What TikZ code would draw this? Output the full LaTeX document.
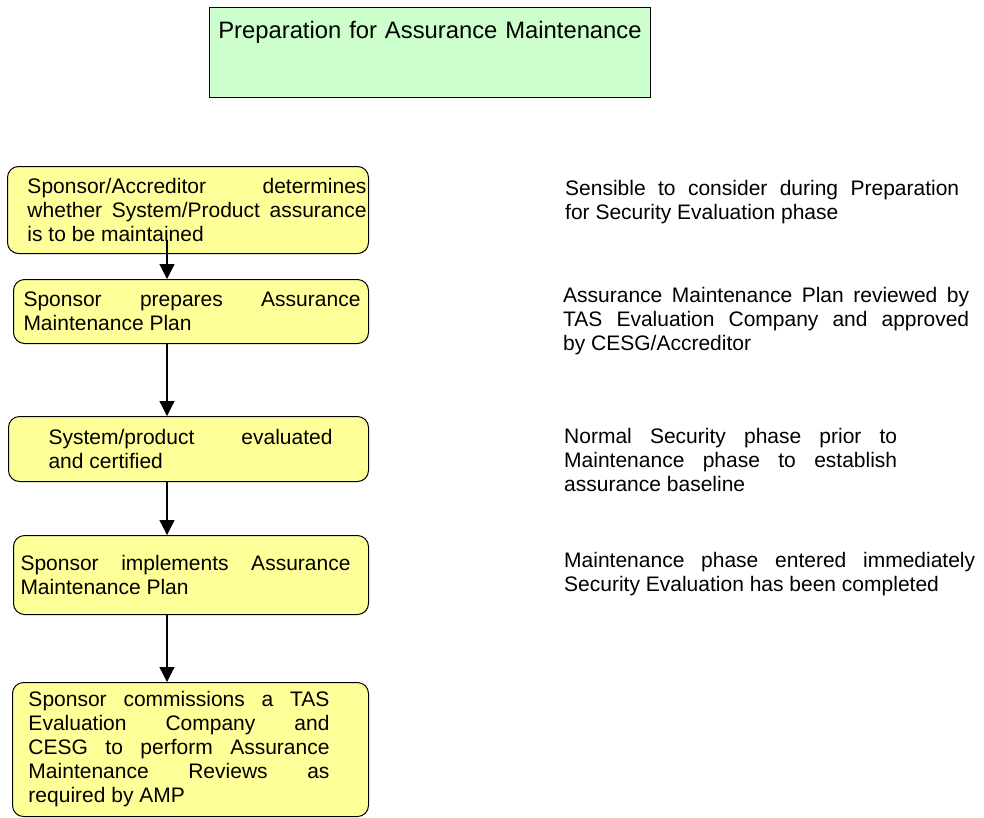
\documentclass[tikz,border=0pt]{standalone}
\usepackage{fontspec}
\setmainfont{Liberation Sans}
\usetikzlibrary{arrows.meta,calc}
\definecolor{HdrFill} {RGB}{204,255,204}
\definecolor{StepFill}{RGB}{255,255,153}
\tikzset{
  nd_hdr/.style={rectangle,draw=black,fill=HdrFill,line width=1pt,inner sep=0pt,align=center,font=\fontsize{23.8}{28}\selectfont},
  nd_step/.style={rectangle,rounded corners=11pt,draw=black,fill=StepFill,line width=1pt,inner sep=0pt,anchor=north west,font=\fontsize{21}{24}\selectfont},
  nd_note/.style={inner sep=0pt,anchor=base west,align=justify,font=\fontsize{21}{24}\selectfont},
  arr/.style={-{Triangle[length=15pt,width=15pt]},line width=1.2pt},
}
% left pad, text width, right pad, text
\newcommand{\steptext}[4]{\hspace*{#1pt}\parbox{#2pt}{#4}\hspace*{#3pt}}
\hbadness=10000

\begin{document}
\begin{tikzpicture}[x=1pt,y=-1pt]
\useasboundingbox (0,0) rectangle (984,817);
% title
\node[nd_hdr,anchor=north west,minimum width=441pt,text width=441pt,text height=31pt,text depth=59pt] (hdr) at (209,7) {Preparation for Assurance Maintenance};
% steps
\node[nd_step,minimum width=361pt,minimum height=87pt] (b1) at (7,166) {\steptext{20}{339}{2}{Sponsor/Accreditor determines\linebreak whether System/Product assurance\linebreak is to be maintained}};
\node[nd_step,minimum width=355pt,minimum height=64pt] (b2) at (13,279) {\steptext{10}{337}{8}{Sponsor prepares Assurance\linebreak Maintenance Plan}};
\node[nd_step,minimum width=360pt,minimum height=65pt] (b3) at (8,416) {\steptext{40}{284}{36}{System/product evaluated\linebreak and certified}};
\node[nd_step,minimum width=355pt,minimum height=79pt] (b4) at (13,535) {\steptext{7}{330}{18}{Sponsor implements Assurance\linebreak Maintenance Plan}};
\node[nd_step,minimum width=356pt,minimum height=134pt] (b5) at (12,682) {\steptext{16}{301}{39}{Sponsor commissions a TAS\linebreak Evaluation Company and\linebreak CESG to perform Assurance\linebreak Maintenance Reviews as\linebreak required by AMP}};
% notes
\node[nd_note,text width=394pt] (n1) at (565,195) {Sensible to consider during Preparation\linebreak for Security Evaluation phase};
\node[nd_note,text width=406pt] (n2) at (563,302) {Assurance Maintenance Plan reviewed by\linebreak TAS Evaluation Company and approved\linebreak by CESG/Accreditor};
\node[nd_note,text width=333pt] (n3) at (564,443) {Normal Security phase prior to\linebreak Maintenance phase to establish\linebreak assurance baseline};
\node[nd_note,text width=411pt] (n4) at (564,567) {Maintenance phase entered immediately\linebreak Security Evaluation has been completed};
% arrows
\coordinate (axis) at (167,0);
\draw[arr]($(b1.south -| axis)+(0,-14)$)--(b2.north -| axis);
\draw[arr](b2.south -| axis)--(b3.north -| axis);
\draw[arr](b3.south -| axis)--(b4.north -| axis);
\draw[arr](b4.south -| axis)--(b5.north -| axis);
\end{tikzpicture}
\end{document}
